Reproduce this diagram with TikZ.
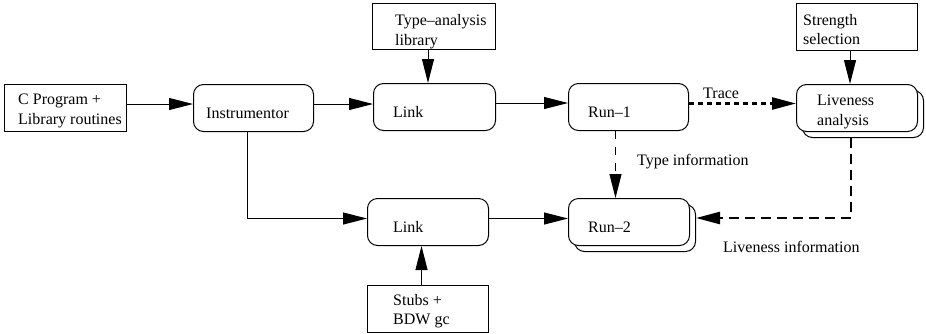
\documentclass[tikz,border=0pt]{standalone}
\usepackage{fontspec}
\setmainfont{Liberation Serif}
\usetikzlibrary{arrows.meta}
\begin{document}
\begin{tikzpicture}[x=1pt,y=-1pt,
  sq/.style={draw, line width=1pt, inner sep=0pt, anchor=north west, minimum height=47pt, fill=white},
  rbox/.style={sq, rounded corners=10pt},
  tx/.style={anchor=base west, inner sep=0pt, font=\fontsize{16}{20}\selectfont},
  arr/.style={line width=1pt, -{Triangle[length=24pt,width=12pt]}},
  thinarr/.style={arr, dash pattern=on 8pt off 8pt},
  tracearr/.style={arr, line width=2.5pt, dash pattern=on 5pt off 4pt},
  livearr/.style={arr, line width=2.5pt, dash pattern=on 10pt off 6pt}]
\useasboundingbox (0,0) rectangle (926,333);
% boxes
\node[sq, minimum width=122pt] (prog) at (4,84) {};
\node[rbox, minimum width=120pt] (instr) at (193,84) {};
\node[sq, minimum width=123pt, minimum height=46pt] (tal) at (372,3) {};
\node[rbox, minimum width=122pt] (link1) at (373,83) {};
\node[rbox, minimum width=120pt] (run1) at (568,83) {};
\node[sq, minimum width=121pt] (str) at (796,3) {};
\node[rbox, minimum width=121pt] (lives) at (802,90) {};
\node[rbox, minimum width=121pt] (live) at (796,84) {};
\node[rbox, minimum width=121pt] (link2) at (367,198) {};
\node[rbox, minimum width=121pt] (run2s) at (574,204) {};
\node[rbox, minimum width=121pt] (run2) at (568,198) {};
\node[sq, minimum width=121pt] (stubs) at (367,285) {};
% texts
\node[tx] (progt1) at (18,104) {C Program +};
\node[tx] (progt2) at (18,124) {Library routines};
\node[tx] (instrt) at (206,118) {Instrumentor};
\node[tx] (talt1) at (395,25) {Type--analysis};
\node[tx] (talt2) at (395,45) {library};
\node[tx] (link1t) at (393,117) {Link};
\node[tx] (run1t) at (588,117) {Run--1};
\node[tx] (tracet) at (703,98) {Trace};
\node[tx] (strt1) at (803,25) {Strength};
\node[tx] (strt2) at (803,44) {selection};
\node[tx] (livet1) at (817,105) {Liveness};
\node[tx] (livet2) at (817,125) {analysis};
\node[tx] (typet) at (637,165) {Type information};
\node[tx] (run2t) at (588,232) {Run--2};
\node[tx] (liveinfot) at (723,252) {Liveness information};
\node[tx] (link2t) at (393,232) {Link};
\node[tx] (stubst1) at (393,305) {Stubs +};
\node[tx] (stubst2) at (393,324) {BDW gc};
% connectors
\draw[arr] ([yshift=4pt]prog.east) -- ([yshift=4pt]instr.west);
\draw[arr] ([yshift=4pt]instr.east) -- ([yshift=4pt]instr.east -| link1.west);
\draw[arr] ([yshift=4pt]link1.east) -- ([yshift=4pt]run1.west);
\draw[tracearr] ([yshift=3.5pt]run1.east) -- ([yshift=3.5pt]run1.east -| live.west);
\draw[arr] ([xshift=-6pt]tal.south) -- ([xshift=-6pt]tal.south |- link1.north);
\draw[arr] ([xshift=-7pt]str.south) -- ([xshift=-7pt]str.south |- live.north);
\draw[thinarr] ([xshift=-13pt]run1.south) -- ([xshift=-13pt]run1.south |- run2.north);
\draw[livearr] ([xshift=-12pt]lives.south) |- ([yshift=10pt]run2s.east);
\draw[arr] ([xshift=-6pt]instr.south) |- ([yshift=3.5pt]link2.west);
\draw[arr] ([yshift=3.5pt]link2.east) -- ([yshift=3.5pt]link2.east -| run2.west);
\draw[arr] ([xshift=-6.5pt]stubs.north) -- ([xshift=-6.5pt]stubs.north |- link2.south);
\end{tikzpicture}
\end{document}
